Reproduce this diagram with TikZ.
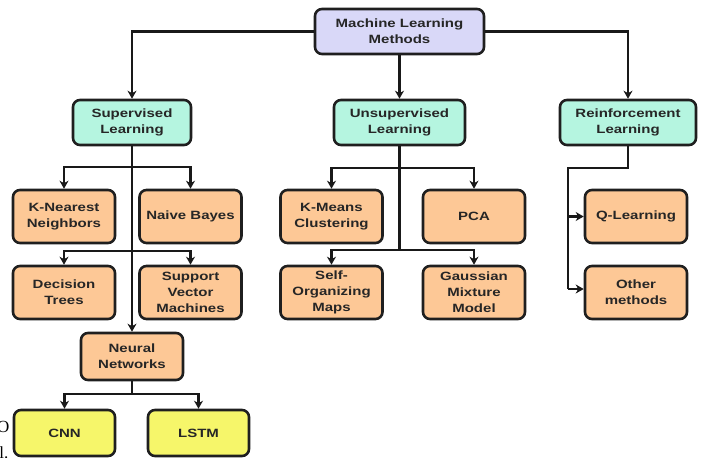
\documentclass[tikz,border=0pt]{standalone}
\usepackage{fontspec}
\setmainfont{Liberation Sans}[FakeStretch=1.25]
\newfontfamily\serifx{Liberation Serif}
\usetikzlibrary{arrows.meta}
\definecolor{lav}{HTML}{D9D8F8}
\definecolor{mint}{HTML}{B5F5E0}
\definecolor{peach}{HTML}{FDC896}
\definecolor{yel}{HTML}{F6F66A}
\tikzset{
  box/.style={draw=black!88, line width=2.6pt, rounded corners=7pt, align=center,
    inner sep=0pt, font=\fontsize{12}{16}\selectfont\bfseries, text=black!85},
  topbox/.style={box, fill=lav, minimum width=169pt, minimum height=45pt},
  catbox/.style={box, fill=mint, minimum height=45pt},
  leafbox/.style={box, fill=peach, minimum width=102pt, minimum height=53pt},
  nnbox/.style={box, fill=peach, minimum width=102pt, minimum height=47pt},
  dlbox/.style={box, fill=yel, minimum width=101pt, minimum height=46pt},
  arr/.style={line width=2.4pt, draw=black!90, -{Stealth[length=8pt,width=9pt,inset=2.5pt]}},
  ln/.style={line width=2.4pt, draw=black!90},
  stray/.style={inner sep=0pt, font=\serifx\fontsize{17}{17}\selectfont}
}
\begin{document}
\begin{tikzpicture}[x=1pt,y=-1pt]
\useasboundingbox (0,0) rectangle (702,458);
% nodes
\node[topbox] (top) at (399.5,31.5) {Machine Learning\\Methods};
\node[catbox, minimum width=118pt] (sup) at (132,122.5) {Supervised\\Learning};
\node[catbox, minimum width=131pt] (uns) at (399.5,122.5) {Unsupervised\\Learning};
\node[catbox, minimum width=136pt] (rl) at (628,122.5) {Reinforcement\\Learning};
\node[leafbox] (knn) at (64,216.5) {K-Nearest\\Neighbors};
\node[leafbox] (nb) at (190.5,216.5) {Naive Bayes};
\node[leafbox] (dt) at (64,292.5) {Decision\\Trees};
\node[leafbox] (svm) at (190.5,292.5) {Support\\Vector\\Machines};
\node[leafbox] (km) at (331.5,216.5) {K-Means\\Clustering};
\node[leafbox] (pca) at (474,216.5) {PCA};
\node[leafbox] (som) at (331.5,292.5) {Self-\\Organizing\\Maps};
\node[leafbox] (gmm) at (474,292.5) {Gaussian\\Mixture\\Model};
\node[leafbox] (ql) at (636,216.5) {Q-Learning};
\node[leafbox] (om) at (636,292.5) {Other\\methods};
\node[nnbox] (nn) at (132,356.5) {Neural\\Networks};
\node[dlbox] (cnn) at (64.5,433) {CNN};
\node[dlbox] (lstm) at (198.5,433) {LSTM};
% stray text fragments at the left edge
\node[stray, anchor=base east] (s1) at (9.5,432) {O};
\node[stray, anchor=base east] (s2) at (8.5,458) {l.};
% junction coordinates
\coordinate (sa) at (132,167);
\coordinate (sb) at (132,251);
\coordinate (ua) at (399.5,168);
\coordinate (ub) at (399.5,250);
\coordinate (ra) at (628,168);
\coordinate (rb) at (568,168);
\coordinate (rq) at (568,216.5);
\coordinate (rc) at (568,289);
\coordinate (na) at (132,394);
% connectors
\draw[arr] (top.west) -| (sup.north);
\draw[arr] (top.south) -- (uns.north);
\draw[arr] (top.east) -| (rl.north);
\draw[arr] (sup.south) -- (nn.north);
\draw[arr] (sa) -| (knn.north);
\draw[arr] (sa) -| (nb.north);
\draw[arr] (sb) -| (dt.north);
\draw[arr] (sb) -| (svm.north);
\draw[ln] (uns.south) -- (ub);
\draw[arr] (ua) -| (km.north);
\draw[arr] (ua) -| (pca.north);
\draw[arr] (ub) -| (som.north);
\draw[arr] (ub) -| (gmm.north);
\draw[ln, line join=miter] (rl.south) -- (ra) -- (rb) -- (rc);
\draw[arr] (rq) -- (ql.west);
\draw[arr] (rc) -- (rc -| om.west);
\draw[ln] (nn.south) -- (na);
\draw[arr] (na) -| (cnn.north);
\draw[arr] (na) -| (lstm.north);
\end{tikzpicture}
\end{document}
